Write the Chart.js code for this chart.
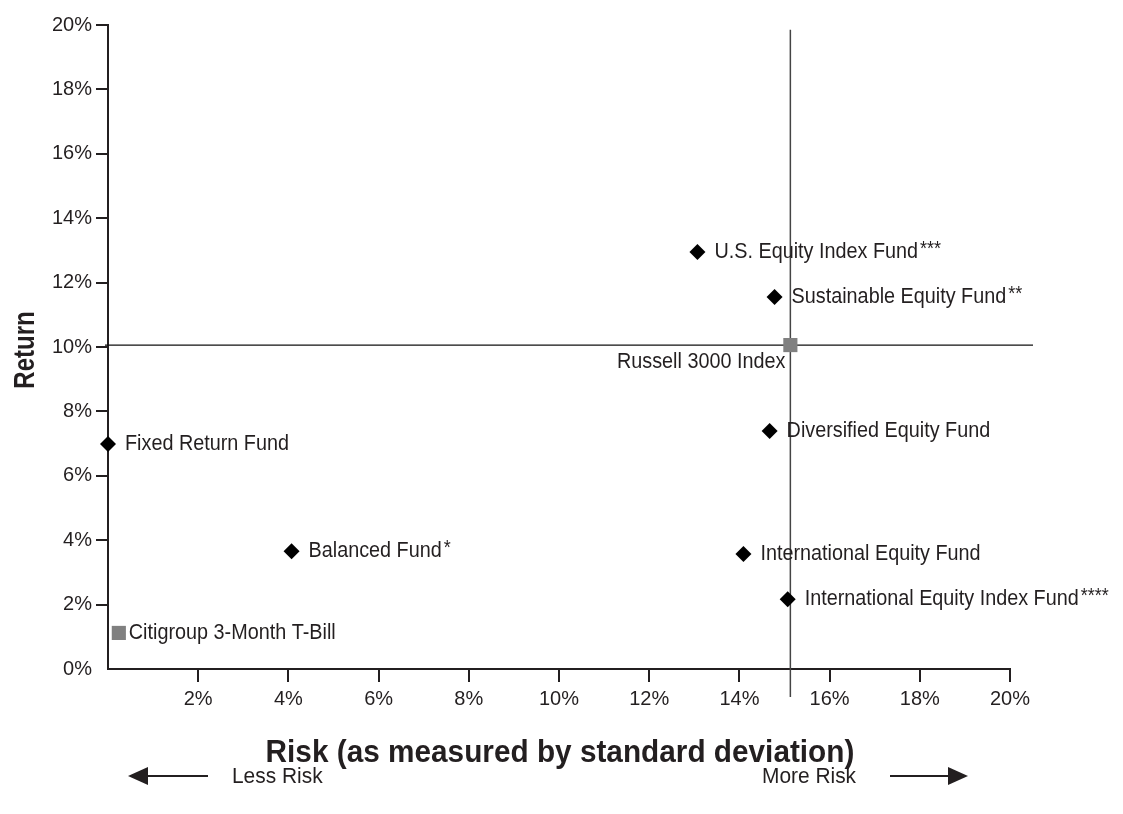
<!DOCTYPE html>
<html>
<head>
<meta charset="utf-8">
<script src="https://cdn.jsdelivr.net/npm/chart.js@4.4.1/dist/chart.umd.min.js"></script>
<style>
  html, body { margin: 0; padding: 0; background: #fff; }
  canvas { display: block; }
</style>
</head>
<body>
<canvas id="risk-chart" width="1123" height="814"></canvas>
<script>
// fund values (risk %, return %)
let fundNames = ["U.S. Equity Index Fund", "Sustainable Equity Fund", "Diversified Equity Fund",
                 "Fixed Return Fund", "Balanced Fund", "International Equity Fund",
                 "International Equity Index Fund"];
let fundNotes = ["***", "**", "", "", "*", "", "****"];
let fundRisk = [13.07, 14.78, 14.67, 0.0, 4.07, 14.09, 15.07];
let fundReturn = [12.95, 11.55, 7.39, 6.99, 3.66, 3.57, 2.17];

// benchmarks
let benchNames = ["Russell 3000 Index", "Citigroup 3-Month T-Bill"];
let benchRisk = [15.13, 0.24];
let benchReturn = [10.06, 1.12];

let xTicks = [0, 2, 4, 6, 8, 10, 12, 14, 16, 18, 20];
let yTicks = [0, 2, 4, 6, 8, 10, 12, 14, 16, 18, 20];

const ink = "#231f20";
const font = "Liberation Sans, Arial, sans-serif";

let fundData = [];
fundRisk.forEach((r, i) => fundData.push({x: r, y: fundReturn[i]}));
let benchData = [];
benchRisk.forEach((r, i) => benchData.push({x: r, y: benchReturn[i]}));

// the original type is a narrow face, so squeeze text a little
function narrowText(ctx, text, x, y, sx) {
    ctx.save();
    ctx.translate(x, y);
    ctx.scale(sx, 1);
    ctx.fillText(text, 0, 0);
    let w = ctx.measureText(text).width * sx;
    ctx.restore();
    return w;
}

function drawArrow(ctx, x1, x2, y, dir) {
    ctx.save();
    ctx.strokeStyle = ink;
    ctx.fillStyle = ink;
    ctx.lineWidth = 2;
    ctx.beginPath();
    ctx.moveTo(x1, y);
    ctx.lineTo(x2, y);
    ctx.stroke();
    let base = dir < 0 ? x1 : x2;
    ctx.beginPath();
    ctx.moveTo(base + dir * 20, y);
    ctx.lineTo(base, y - 9);
    ctx.lineTo(base, y + 9);
    ctx.closePath();
    ctx.fill();
    ctx.restore();
}

// reference lines through the Russell 3000 point
const crossLines = {
    id: "crossLines",
    beforeDatasetsDraw(chart) {
        let ctx = chart.ctx;
        let xs = chart.scales.x, ys = chart.scales.y;
        let px = xs.getPixelForValue(benchRisk[0]);
        let py = ys.getPixelForValue(benchReturn[0]);
        ctx.save();
        ctx.strokeStyle = "#444";
        ctx.lineWidth = 1.5;
        ctx.beginPath();
        ctx.moveTo(px, ys.getPixelForValue(19.85));
        ctx.lineTo(px, ys.bottom + 28);
        ctx.stroke();
        ctx.strokeStyle = "#111";
        ctx.lineWidth = 1.2;
        ctx.beginPath();
        ctx.moveTo(xs.left - 3, py);
        ctx.lineTo(xs.right + 23, py);
        ctx.stroke();
        ctx.restore();
    }
};

const pointLabels = {
    id: "pointLabels",
    afterDatasetsDraw(chart) {
        let ctx = chart.ctx;
        let xs = chart.scales.x, ys = chart.scales.y;
        ctx.save();
        ctx.fillStyle = ink;
        ctx.textBaseline = "middle";
        ctx.textAlign = "left";
        fundNames.forEach((name, i) => {
            let px = xs.getPixelForValue(fundRisk[i]) + 17;
            let py = ys.getPixelForValue(fundReturn[i]);
            ctx.font = "22px " + font;
            let w = narrowText(ctx, name, px, py, 0.9);
            if (fundNotes[i]) {
                ctx.font = "20px " + font;
                narrowText(ctx, fundNotes[i], px + w + 2, py - 3, 0.9);
            }
        });
        // benchmarks
        ctx.font = "22px " + font;
        let rx = xs.getPixelForValue(benchRisk[0]) - 5;
        let rw = ctx.measureText(benchNames[0]).width * 0.9;
        narrowText(ctx, benchNames[0], rx - rw, ys.getPixelForValue(benchReturn[0]) + 17, 0.9);
        narrowText(ctx, benchNames[1], xs.getPixelForValue(benchRisk[1]) + 10, ys.getPixelForValue(benchReturn[1]), 0.9);

        // axis titles
        ctx.font = "bold 32px " + font;
        ctx.textAlign = "center";
        narrowText(ctx, "Risk (as measured by standard deviation)", 560, 753, 0.93);
        ctx.save();
        ctx.translate(26, 350);
        ctx.rotate(-Math.PI / 2);
        ctx.font = "bold 30px " + font;
        narrowText(ctx, "Return", 0, 0, 0.8);
        ctx.restore();

        // risk direction hints
        ctx.font = "22px " + font;
        ctx.textAlign = "left";
        narrowText(ctx, "Less Risk", 232, 777, 0.95);
        narrowText(ctx, "More Risk", 762, 777, 0.95);
        drawArrow(ctx, 148, 208, 776, -1);
        drawArrow(ctx, 890, 948, 776, 1);
        ctx.restore();
    }
};

const ctx = document.getElementById("risk-chart").getContext("2d");

let myChart = new Chart(ctx, {
    type: "scatter",
    data: {
        datasets: [{
            label: "Funds",
            data: fundData,
            pointStyle: "rectRot",
            pointRadius: 8,
            pointHoverRadius: 8,
            backgroundColor: "#000",
            borderColor: "#000",
            borderWidth: 0,
            clip: false
        }, {
            label: "Benchmarks",
            data: benchData,
            pointStyle: "rect",
            pointRadius: 10,
            pointHoverRadius: 10,
            backgroundColor: "#808080",
            borderColor: "#808080",
            borderWidth: 0,
            clip: false
        }]
    },
    options: {
        responsive: false,
        animation: false,
        devicePixelRatio: 1,
        layout: { padding: { left: 0, right: 113, top: 25, bottom: 0 } },
        plugins: {
            legend: { display: false },
            tooltip: { enabled: false }
        },
        scales: {
            x: {
                type: "linear",
                min: 0,
                max: 20,
                afterFit: s => { s.height = 145; },
                afterBuildTicks: s => { s.ticks = xTicks.map(v => ({value: v})); },
                border: { display: true, color: ink, width: 2 },
                grid: {
                    drawOnChartArea: false,
                    drawTicks: true,
                    tickLength: 13,
                    lineWidth: 2,
                    color: c => (c.tick && c.tick.value === 0) ? "rgba(0,0,0,0)" : ink
                },
                ticks: {
                    padding: 5,
                    color: ink,
                    font: { family: font, size: 20 },
                    callback: v => v === 0 ? "" : v + "%"
                }
            },
            y: {
                type: "linear",
                min: 0,
                max: 20,
                afterFit: s => { s.width = 108; },
                afterBuildTicks: s => { s.ticks = yTicks.map(v => ({value: v})); },
                border: { display: true, color: ink, width: 2 },
                grid: {
                    drawOnChartArea: false,
                    drawTicks: true,
                    tickLength: 12,
                    lineWidth: 2,
                    color: c => (c.tick && c.tick.value === 0) ? "rgba(0,0,0,0)" : ink
                },
                ticks: {
                    padding: 4,
                    color: ink,
                    font: { family: font, size: 20 },
                    callback: v => v + "%"
                }
            }
        }
    },
    plugins: [crossLines, pointLabels]
});
</script>
</body>
</html>
